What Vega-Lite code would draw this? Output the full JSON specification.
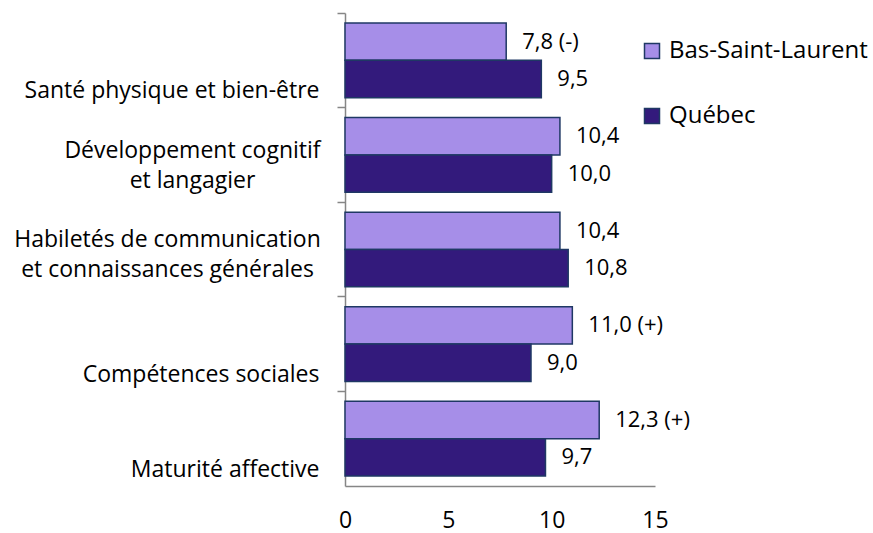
{
  "$schema": "https://vega.github.io/schema/vega-lite/v6.json",
  "width": 310,
  "height": 473,
  "autosize": "none",
  "padding": {"left": 345, "top": 13, "right": 218, "bottom": 47},
  "background": "white",
  "config": {"view": {"stroke": null}, "font": "Open Sans"},
  "data": {
    "values": [
      {"domaine": "Santé physique et bien-être", "territoire": "Bas-Saint-Laurent", "valeur": 7.8, "etiquette": "7,8 (-)"},
      {"domaine": "Santé physique et bien-être", "territoire": "Québec", "valeur": 9.5, "etiquette": "9,5"},
      {"domaine": "Développement cognitif et langagier", "territoire": "Bas-Saint-Laurent", "valeur": 10.4, "etiquette": "10,4"},
      {"domaine": "Développement cognitif et langagier", "territoire": "Québec", "valeur": 10.0, "etiquette": "10,0"},
      {"domaine": "Habiletés de communication et connaissances générales", "territoire": "Bas-Saint-Laurent", "valeur": 10.4, "etiquette": "10,4"},
      {"domaine": "Habiletés de communication et connaissances générales", "territoire": "Québec", "valeur": 10.8, "etiquette": "10,8"},
      {"domaine": "Compétences sociales", "territoire": "Bas-Saint-Laurent", "valeur": 11.0, "etiquette": "11,0 (+)"},
      {"domaine": "Compétences sociales", "territoire": "Québec", "valeur": 9.0, "etiquette": "9,0"},
      {"domaine": "Maturité affective", "territoire": "Bas-Saint-Laurent", "valeur": 12.3, "etiquette": "12,3 (+)"},
      {"domaine": "Maturité affective", "territoire": "Québec", "valeur": 9.7, "etiquette": "9,7"}
    ]
  },
  "encoding": {
    "y": {
      "field": "domaine",
      "type": "nominal",
      "sort": null,
      "scale": {"paddingInner": 0, "paddingOuter": 0},
      "axis": {
        "title": null,
        "bandPosition": 0,
        "domainColor": "#868686",
        "domainWidth": 1.5,
        "tickColor": "#868686",
        "tickWidth": 1.5,
        "tickSize": 8,
        "labelFontSize": 23,
        "labelColor": "#000000",
        "labelLimit": 400,
        "labelBaseline": "top",
        "labelAlign": {"condition": {"test": "length(datum.value) > 30", "value": "center"}, "value": "right"},
        "labelPadding": {"condition": [
          {"test": "datum.value == 'Développement cognitif et langagier'", "value": 145},
          {"test": "datum.value == 'Habiletés de communication et connaissances générales'", "value": 170}
        ], "value": 18},
        "labelOffset": {"condition": [
          {"test": "datum.value == 'Développement cognitif et langagier'", "value": -15},
          {"test": "datum.value == 'Habiletés de communication et connaissances générales'", "value": -21}
        ], "value": 20},
        "labelLineHeight": 30,
        "labelExpr": "datum.value == 'Développement cognitif et langagier' ? ['Développement cognitif', 'et langagier'] : datum.value == 'Habiletés de communication et connaissances générales' ? ['Habiletés de communication', 'et connaissances générales'] : datum.value"
      }
    },
    "yOffset": {
      "field": "territoire",
      "type": "nominal",
      "sort": ["Bas-Saint-Laurent", "Québec"],
      "scale": {"paddingInner": 0, "paddingOuter": 0.266}
    },
    "x": {
      "field": "valeur",
      "type": "quantitative",
      "scale": {"domain": [0, 15], "nice": false},
      "axis": {
        "title": null,
        "values": [0, 5, 10, 15],
        "grid": false,
        "ticks": false,
        "domainColor": "#868686",
        "domainWidth": 1.5,
        "labelFontSize": 23,
        "labelColor": "#000000",
        "labelPadding": 23,
        "labelFlush": false
      }
    }
  },
  "layer": [
    {
      "mark": {"type": "bar", "stroke": "#1F3864", "strokeWidth": 1.5},
      "encoding": {
        "color": {
          "field": "territoire",
          "type": "nominal",
          "sort": ["Bas-Saint-Laurent", "Québec"],
          "scale": {"domain": ["Bas-Saint-Laurent", "Québec"], "range": ["#A68EE8", "#331A7C"]},
          "legend": {
            "title": null,
            "orient": "none",
            "legendX": 295,
            "legendY": 26,
            "symbolType": "square",
            "symbolSize": 225,
            "symbolStrokeColor": "#1F3864",
            "symbolStrokeWidth": 1.5,
            "labelFontSize": 24,
            "labelColor": "#000000",
            "labelOffset": 5,
            "labelLimit": 300,
            "rowPadding": 41
          }
        }
      }
    },
    {
      "mark": {"type": "text", "align": "left", "baseline": "middle", "dx": 16, "fontSize": 22, "color": "#000000"},
      "encoding": {
        "text": {"field": "etiquette"}
      }
    }
  ]
}
